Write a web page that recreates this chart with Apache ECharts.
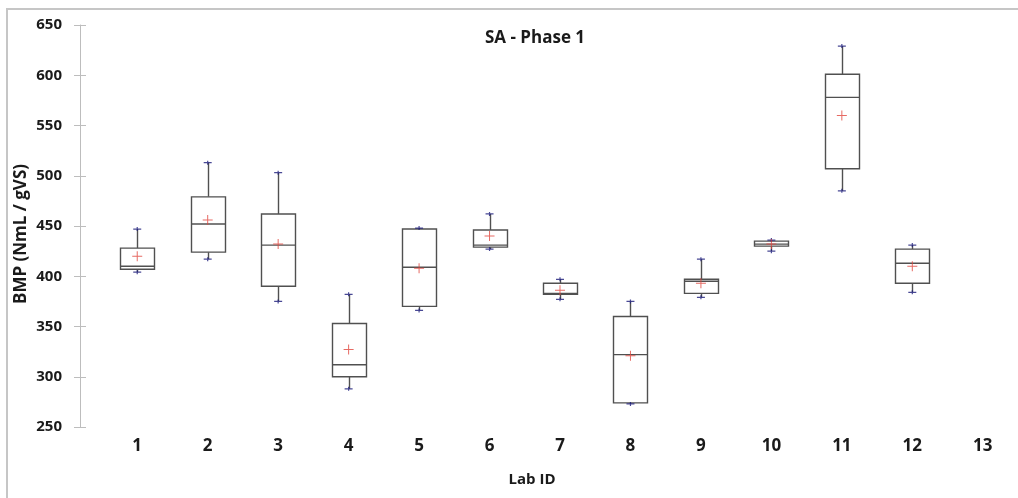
<!DOCTYPE html>
<html><head><meta charset="utf-8">
<script src="https://cdn.jsdelivr.net/npm/echarts@6/dist/echarts.min.js"></script>
<style>html,body{margin:0;padding:0;background:#fff}#c{width:1018px;height:498px}</style>
</head><body><div id="c"></div>
<script>
// ---- data ----
const labIds      = ['1','2','3','4','5','6','7','8','9','10','11','12','13'];
const whiskerLow  = [404, 417, 375, 288, 366, 427, 377, 273, 379, 425, 485, 384, null];
const quartile1   = [407, 424, 390, 300, 370, 429, 382, 274, 383, 430, 507, 393, null];
const medians     = [410, 452, 431, 312, 409, 431, 383, 322, 395, 432, 578, 413, null];
const quartile3   = [428, 479, 462, 353, 447, 446, 393, 360, 397, 435, 601, 427, null];
const whiskerHigh = [447, 513, 503, 382, 448, 462, 397, 375, 417, 436, 629, 431, null];
const means       = [420, 456, 432, 327, 408, 440, 386, 321, 393, 432, 560, 410, null];
const yMin = 250, yMax = 650, yStep = 50;
const titleText = 'SA - Phase 1';
const yTitle = 'BMP (NmL / gVS)';
const xTitle = 'Lab ID';

// ---- build series data ----
const boxData = [], endData = [], meanData = [];
labIds.forEach((id, i) => {
  if (whiskerLow[i] == null) return;
  boxData.push([i, whiskerLow[i], quartile1[i], medians[i], quartile3[i], whiskerHigh[i]]);
  endData.push([i, whiskerLow[i]], [i, whiskerHigh[i]]);
  meanData.push([i, means[i]]);
});

const BOX_W = 34;
const boxColor = '#505050';
const font = '"Open Sans", "Liberation Sans", sans-serif';

function renderBox(params, api) {
  const i = api.value(0);
  const pLow = api.coord([i, api.value(1)]);
  const pQ1 = api.coord([i, api.value(2)]);
  const pMed = api.coord([i, api.value(3)]);
  const pQ3 = api.coord([i, api.value(4)]);
  const pHigh = api.coord([i, api.value(5)]);
  const cx = Math.round(pQ1[0]) + 0.5;
  const h = BOX_W / 2;
  const st = { stroke: boxColor, lineWidth: 1.4, fill: null };
  return {
    type: 'group',
    children: [
      { type: 'line', shape: { x1: cx, y1: pHigh[1], x2: cx, y2: pQ3[1] }, style: st },
      { type: 'line', shape: { x1: cx, y1: pQ1[1], x2: cx, y2: pLow[1] }, style: st },
      { type: 'rect', shape: { x: cx - h, y: pQ3[1], width: BOX_W, height: pQ1[1] - pQ3[1] },
        style: { stroke: boxColor, lineWidth: 1.4, fill: '#fff' } },
      { type: 'line', shape: { x1: cx - h, y1: pMed[1], x2: cx + h, y2: pMed[1] }, style: st }
    ]
  };
}

const chart = echarts.init(document.getElementById('c'), null, { renderer: 'canvas' });
chart.setOption({
  animation: false,
  backgroundColor: '#fff',
  title: {
    text: titleText, left: 530, top: 25, textAlign: 'center',
    textStyle: { fontFamily: font, fontWeight: 'bold', fontSize: 17, color: '#1a1a1a' }
  },
  grid: { left: 102, top: 25, width: 923, height: 402 },
  xAxis: {
    type: 'category', data: labIds, boundaryGap: true,
    axisLine: { show: false }, axisTick: { show: false }, splitLine: { show: false },
    axisLabel: { margin: 11, fontFamily: font, fontWeight: 'bold', fontSize: 17, color: '#1a1a1a' }
  },
  yAxis: [{
    type: 'value', min: yMin, max: yMax, interval: yStep, offset: 22,
    axisLine: { show: true, lineStyle: { color: '#bdbdbd', width: 1 } },
    axisTick: { show: true, length: 6, lineStyle: { color: '#bdbdbd' } },
    splitLine: { show: false },
    axisLabel: { margin: 18, fontFamily: font, fontWeight: 'bold', fontSize: 15, color: '#1a1a1a' }
  }, {
    type: 'value', min: yMin, max: yMax, interval: yStep, offset: 22, position: 'left',
    axisLine: { show: false },
    axisTick: { show: true, inside: true, length: 6, lineStyle: { color: '#bdbdbd' } },
    splitLine: { show: false }, axisLabel: { show: false }
  }],
  graphic: [
    { type: 'polyline', shape: { points: [[7, 498], [7, 9], [1018, 9]] },
      style: { stroke: '#c6c6c6', lineWidth: 2, fill: null }, silent: true },
    { type: 'text', x: 21, y: 234, rotation: Math.PI / 2,
      style: { text: yTitle, font: 'bold 17px ' + font, fill: '#1a1a1a', textAlign: 'center', textVerticalAlign: 'middle' } },
    { type: 'text', x: 532, y: 480,
      style: { text: xTitle, font: 'bold 15px ' + font, fill: '#1a1a1a', textAlign: 'center', textVerticalAlign: 'middle' } }
  ],
  series: [
    { type: 'custom', renderItem: renderBox, data: boxData, encode: { x: 0, y: [1, 2, 3, 4, 5] }, z: 2 },
    { type: 'scatter', data: endData, z: 3,
      symbol: 'path://M0,1.3H8V2.5H0Z M3.4,0H4.6V3.8H3.4Z', symbolSize: [8, 4],
      itemStyle: { color: '#1c1c7a' } },
    { type: 'scatter', data: meanData, z: 4,
      symbol: 'path://M4.5,0H5.5V4.5H10V5.5H5.5V10H4.5V5.5H0V4.5H4.5Z', symbolSize: 10,
      itemStyle: { color: '#e0453c' } }
  ]
});
</script>
</body></html>
